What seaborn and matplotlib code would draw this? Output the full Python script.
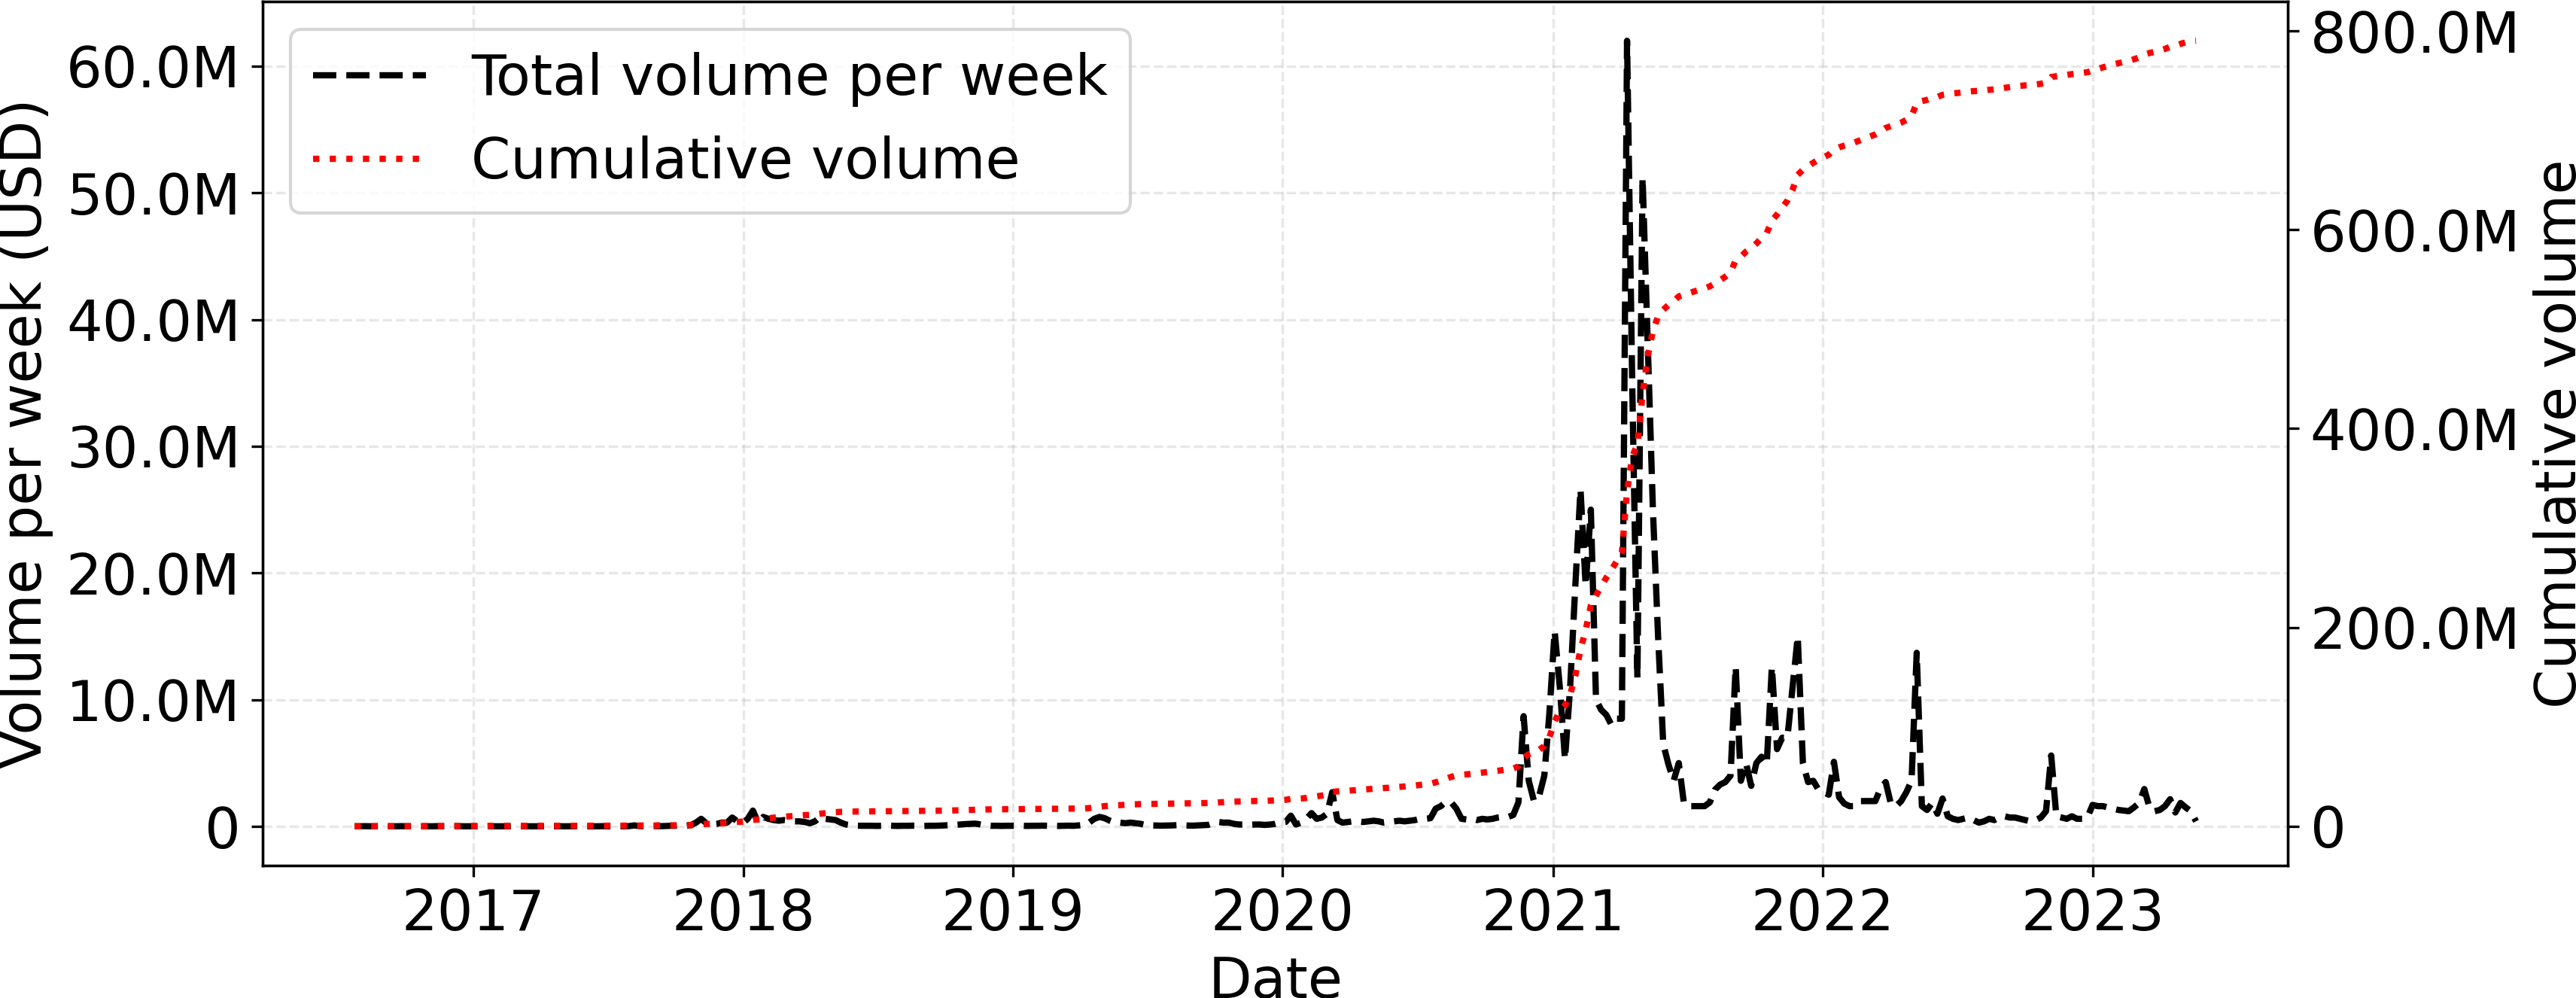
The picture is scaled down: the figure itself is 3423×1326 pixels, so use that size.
import numpy as np
import pandas as pd
import seaborn as sns
import matplotlib.pyplot as plt
import matplotlib.dates as mdates
from matplotlib.ticker import FuncFormatter, MultipleLocator

# weekly volume in millions of USD, one value per week from the first week on
first_week = "2016-07-24"

vol_2016 = [0.01, 0.01, 0.02, 0.01, 0.01, 0.02, 0.01, 0.01, 0.01, 0.02,
            0.01, 0.01, 0.02, 0.01, 0.01, 0.01, 0.02, 0.01, 0.01, 0.01,
            0.02, 0.01, 0.01]
vol_2017 = [0.01, 0.01, 0.01, 0.02, 0.01, 0.01, 0.01, 0.01, 0.02, 0.01,
            0.01, 0.01, 0.01, 0.01, 0.02, 0.01, 0.01, 0.01, 0.01, 0.01,
            0.02, 0.01, 0.01, 0.01, 0.01, 0.02, 0.01, 0.01, 0.01, 0.01,
            0.02, 0.08, 0.03, 0.02, 0.02, 0.03, 0.02,
            0.03, 0.05, 0.05, 0.08, 0.05, 0.1, 0.3, 0.6, 0.25, 0.15,
            0.2, 0.3, 0.3, 0.7, 0.4, 0.25]
vol_2018 = [0.6, 1.25, 0.3, 0.75, 0.6, 0.5, 0.45, 0.5, 0.45, 0.4,
            0.4, 0.35, 0.25, 0.4, 0.75, 0.6, 0.55, 0.5, 0.3, 0.15,
            0.1, 0.06, 0.05,
            0.05, 0.05, 0.04, 0.05, 0.06, 0.05, 0.04, 0.05, 0.05, 0.06,
            0.05, 0.04, 0.05, 0.05, 0.06, 0.08, 0.1, 0.12, 0.15, 0.18,
            0.2, 0.22, 0.15, 0.08, 0.05, 0.05, 0.04, 0.05, 0.05]
vol_2019 = [0.05, 0.05, 0.04, 0.05, 0.05, 0.06, 0.05, 0.05, 0.04, 0.05,
            0.06, 0.05, 0.08, 0.12,
            0.3, 0.6, 0.75, 0.65, 0.45,
            0.3, 0.3, 0.25, 0.3, 0.25, 0.2,
            0.1, 0.08, 0.07, 0.06, 0.07, 0.08, 0.1, 0.08, 0.07, 0.06,
            0.08, 0.1, 0.12,
            0.25, 0.35, 0.3, 0.3,
            0.2, 0.15, 0.15, 0.12, 0.15, 0.15, 0.12, 0.15, 0.2, 0.3]
vol_2020 = [0.35, 0.85, 0.15, 0.3, 0.6, 1.05, 0.6, 0.7, 1.0, 2.7,
            0.5, 0.3, 0.35, 0.4, 0.4, 0.35, 0.4, 0.45, 0.4, 0.3,
            0.35, 0.4, 0.45, 0.4, 0.45, 0.5, 0.6, 0.6, 0.65, 1.4,
            1.6, 1.95, 1.9, 1.4, 0.6, 0.55, 0.6, 0.5, 0.6, 0.55,
            0.6, 0.7, 0.75, 0.75, 0.9, 1.9, 8.7, 3.6, 2.0, 2.4,
            4.0, 9.0]
vol_2021 = [15.4, 11.0, 5.3, 11.0, 19.0, 26.6, 19.0, 25.0, 10.0, 9.2,
            8.8, 8.0, 8.5, 8.5, 62.0, 35.0, 11.7, 51.2, 38.0, 25.0,
            15.0, 6.5, 4.9, 3.6, 5.0, 1.8, 1.6, 1.6, 1.6, 1.6,
            1.9, 2.9, 3.3, 3.5, 4.0, 12.6, 3.6, 5.0, 3.2, 5.0,
            5.5, 4.9, 12.6, 6.1, 7.0, 7.0, 11.0, 15.0, 5.0, 3.5,
            3.6, 2.9]
vol_2022 = [2.7, 2.5, 5.1, 2.3, 1.8, 1.6, 1.6, 2.0, 2.0, 2.0,
            2.0, 3.0, 3.5, 1.8, 1.6, 2.0, 2.7, 3.6, 13.7, 1.6,
            1.3, 1.85, 1.0, 2.2, 0.8, 0.6, 0.5, 0.6, 0.7, 0.5,
            0.3, 0.4, 0.6, 0.5, 0.7, 0.8, 0.7, 0.7, 0.6, 0.5,
            0.4, 0.5, 0.7, 1.2, 5.6, 0.8, 0.7, 0.6, 0.8, 0.6,
            0.6, 0.7]
vol_2023 = [1.7, 1.6, 1.6, 1.5, 1.4, 1.3, 1.25, 1.2, 1.5, 1.85,
            2.95, 1.5, 1.2, 1.3, 1.6, 2.15, 1.1, 1.85, 1.5, 1.2,
            0.4]

volume = vol_2016 + vol_2017 + vol_2018 + vol_2019 + vol_2020 + vol_2021 + vol_2022 + vol_2023

df = pd.DataFrame({
    "date": pd.date_range(first_week, periods=len(volume), freq="7D"),
    "volume": np.array(volume) * 1e6,
})
df["cumulative"] = df["volume"].cumsum()

plt.rcParams["font.size"] = 18

fig = plt.figure(figsize=(11.413, 4.42), dpi=300)
ax = fig.add_axes([0.1019, 0.1327, 0.7861, 0.8658])

sns.lineplot(data=df, x="date", y="volume", ax=ax, color="black",
             linestyle="--", linewidth=2, label="Total volume per week")
ax2 = ax.twinx()
sns.lineplot(data=df, x="date", y="cumulative", ax=ax2, color="red",
             linestyle=":", linewidth=2, label="Cumulative volume")

for a in (ax, ax2):
    if a.get_legend() is not None:
        a.get_legend().remove()

fmt = FuncFormatter(lambda v, _: "0" if v == 0 else f"{v / 1e6:.1f}M")
ax.yaxis.set_major_locator(MultipleLocator(10e6))
ax.yaxis.set_major_formatter(fmt)
ax2.yaxis.set_major_locator(MultipleLocator(200e6))
ax2.yaxis.set_major_formatter(fmt)

ax.xaxis.set_major_locator(mdates.YearLocator())
ax.xaxis.set_major_formatter(mdates.DateFormatter("%Y"))

ax.grid(True, linestyle="--", alpha=0.3)

ax.set_xlabel("Date")
ax.set_ylabel("Volume per week (USD)")
ax2.set_ylabel("Cumulative volume")

h1, l1 = ax.get_legend_handles_labels()
h2, l2 = ax2.get_legend_handles_labels()
ax2.legend(h1 + h2, l1 + l2, loc="upper left")

fig.savefig("out.png", dpi=300)
